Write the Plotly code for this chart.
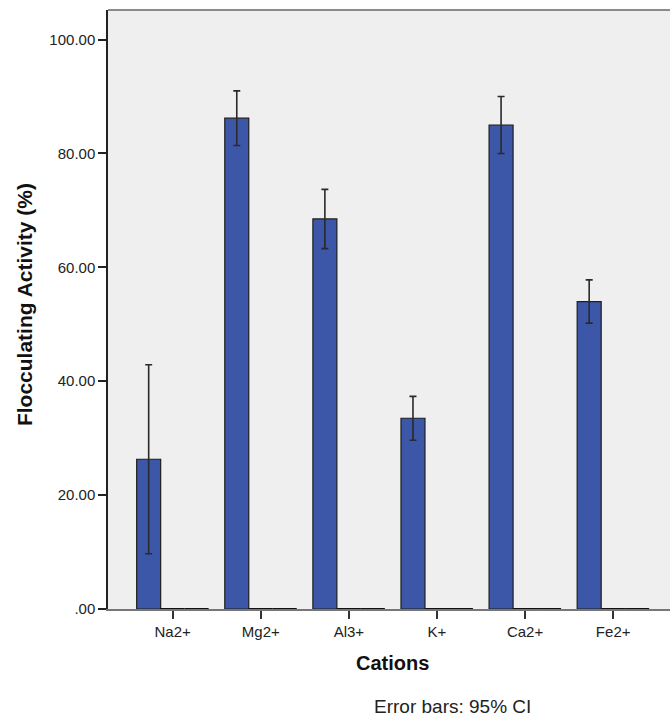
import plotly.graph_objects as go

cations = ["Na2+", "Mg2+", "Al3+", "K+", "Ca2+", "Fe2+"]
activity = [26.3, 86.2, 68.5, 33.5, 85.0, 54.0]
ci_half = [16.6, 4.8, 5.2, 3.85, 5.0, 3.8]
empty_a = [0, 0, 0, 0, 0, 0]
empty_b = [0, 0, 0, 0, 0, 0]

y_ticks = [0, 20, 40, 60, 80, 100]
y_ticktext = [".00", "20.00", "40.00", "60.00", "80.00", "100.00"]

BAR = "#3d57a8"
EDGE = "#1e1e1e"
FONT = "Liberation Sans, Arial, sans-serif"

x_idx = list(range(len(cations)))

fig = go.Figure()
fig.add_trace(go.Bar(
    x=x_idx, y=activity,
    marker=dict(color=BAR, line=dict(color=EDGE, width=1.2)),
    error_y=dict(type="data", array=ci_half, visible=True,
                 color="#2a2a2a", thickness=1.6, width=3.5),
    showlegend=False,
))
fig.add_trace(go.Bar(
    x=x_idx, y=empty_a,
    marker=dict(color=BAR, line=dict(color="#111111", width=2)),
    showlegend=False,
))
fig.add_trace(go.Bar(
    x=x_idx, y=empty_b,
    marker=dict(color=BAR, line=dict(color="#111111", width=2)),
    showlegend=False,
))

fig.update_layout(
    width=670, height=722,
    margin=dict(l=108, r=0, t=10, b=113),
    paper_bgcolor="white",
    plot_bgcolor="#efefef",
    barmode="group",
    bargap=0.183,
    bargroupgap=0,
    font=dict(family=FONT, color="#222222"),
    xaxis=dict(
        range=[-0.734, 5.645],
        tickmode="array", tickvals=x_idx, ticktext=cations,
        ticks="outside", ticklen=8, tickwidth=1.5, tickcolor="#333333",
        tickfont=dict(size=15, family=FONT, color="#222222"),
        showline=True, linecolor="#777777", linewidth=1.5,
        showgrid=False, zeroline=False, fixedrange=True,
    ),
    yaxis=dict(
        range=[0, 105.2],
        tickmode="array", tickvals=y_ticks, ticktext=y_ticktext,
        ticks="outside", ticklen=8, tickwidth=1.5, tickcolor="#222222",
        tickfont=dict(size=15, family=FONT, color="#222222"),
        showline=True, linecolor="#222222", linewidth=1.5,
        showgrid=False, zeroline=False, fixedrange=True,
    ),
    shapes=[dict(type="line", xref="paper", yref="paper",
                 x0=0, x1=1, y0=1, y1=1,
                 line=dict(color="#8a8a8a", width=2))],
    annotations=[
        dict(text="<b>Flocculating Activity (%)</b>", xref="paper", yref="paper",
             x=-0.1495, y=0.509, xanchor="center", yanchor="middle",
             textangle=-90, showarrow=False,
             font=dict(size=21, family=FONT, color="#111111")),
        dict(text="<b>Cations</b>", xref="paper", yref="paper",
             x=0.507, y=-0.0907, xanchor="center", yanchor="middle",
             showarrow=False,
             font=dict(size=20, family=FONT, color="#111111")),
        dict(text="Error bars: 95% CI", xref="paper", yref="paper",
             x=0.613, y=-0.1625, xanchor="center", yanchor="middle",
             showarrow=False,
             font=dict(size=19, family=FONT, color="#222222")),
    ],
)

fig.write_html(
    "out.html",
    config={"displayModeBar": False},
    post_script="document.body.style.margin='0px';document.body.style.overflow='hidden';",
)
